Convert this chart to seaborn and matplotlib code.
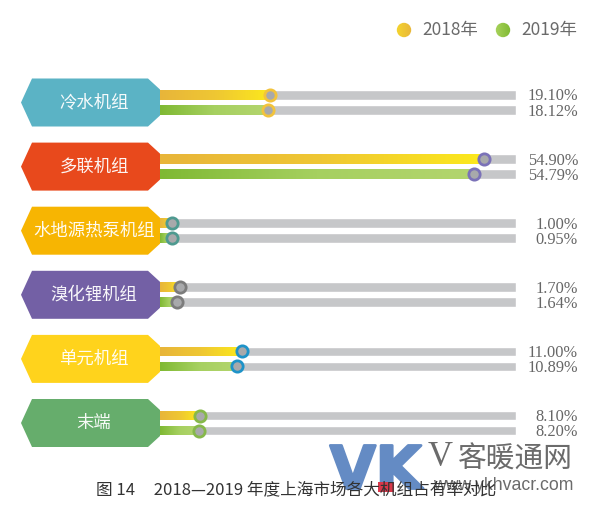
import matplotlib
matplotlib.use('Agg')
import numpy as np
import pandas as pd
import matplotlib.pyplot as plt
import matplotlib.patheffects as pe
from matplotlib.patches import Polygon, Circle
from matplotlib.colors import LinearSegmentedColormap
import seaborn as sns

# datos
categorias = ['冷水机组', '多联机组', '水地源热泵机组', '溴化锂机组', '单元机组', '末端']
etiquetas_2018 = ['19.10%', '54.90%', '1.00%', '1.70%', '11.00%', '8.10%']
etiquetas_2019 = ['18.12%', '54.79%', '0.95%', '1.64%', '10.89%', '8.20%']
# largo dibujado de cada barra, en % del riel gris (la figura no es proporcional)
largo_2018 = [30.9, 91.0, 3.4, 5.6, 23.0, 11.2]
largo_2019 = [30.3, 88.2, 3.4, 4.8, 21.6, 10.9]
riel = [100, 100, 100, 100, 100, 100]
colores = ['#5BB3C5', '#E8491C', '#F7B502', '#7360A5', '#FFD31C', '#66AD6C']
bordes = ['#F2C33C', '#7B72B8', '#4F9A90', '#7C7C7C', '#1F93C8', '#86B84A']

sns.set_theme(style='white')
plt.rcParams['font.family'] = ['Noto Sans CJK SC', 'DejaVu Sans']

W, H = 600, 519
fig = plt.figure(figsize=(W / 100, H / 100), dpi=100)

# capa de fondo en pixeles, para etiquetas y formas
fondo = fig.add_axes([0, 0, 1, 1])

# ejes de las barras: x 160-516, y 70.5-455
ax = fig.add_axes([160 / W, 1 - 455.1 / H, 356 / W, 384.6 / H])
ax.patch.set_alpha(0)

df_riel = pd.DataFrame({
    'categoria': categorias * 2,
    'anio': ['2018'] * 6 + ['2019'] * 6,
    'valor': riel + riel,
})
df_barra = pd.DataFrame({
    'categoria': categorias * 2,
    'anio': ['2018'] * 6 + ['2019'] * 6,
    'valor': largo_2018 + largo_2019,
})
sns.barplot(data=df_riel, y='categoria', x='valor', hue='anio', order=categorias,
            palette=['#C6C7C9', '#C6C7C9'], width=0.47, gap=0.35, legend=False,
            saturation=1, ax=ax, zorder=1)
n_riel = len(ax.patches)
sns.barplot(data=df_barra, y='categoria', x='valor', hue='anio', order=categorias,
            palette=['#E8B53A', '#86BC3A'], width=0.47, gap=0.35, legend=False,
            saturation=1, ax=ax, zorder=2)

# degradado dentro de cada barra de color
cmap_2018 = LinearSegmentedColormap.from_list('g18', ['#E8B53A', '#EFC733', '#FCE91C'])
cmap_2019 = LinearSegmentedColormap.from_list('g19', ['#7FB933', '#A6D060', '#B3D56E'])
grad = np.linspace(0, 1, 256).reshape(1, -1)
barras = [p for p in ax.patches[n_riel:] if p.get_width() > 0]
for p in barras:
    x0, y0, w, h = p.get_x(), p.get_y(), p.get_width(), p.get_height()
    yc = y0 + h / 2
    fila = int(round(yc))
    cmap = cmap_2018 if yc < fila else cmap_2019
    im = ax.imshow(grad, extent=[x0, x0 + w, y0 + h, y0], cmap=cmap, aspect='auto', zorder=3)
    im.set_clip_path(p)
    # punto al final de la barra
    ax.scatter(x0 + w, yc, s=66, facecolor='#A8A9AB', edgecolor=bordes[fila], linewidth=2,
               zorder=5, clip_on=False)
ax.set_xlim(0, 100)
ax.set_ylim(5.5, -0.5)
ax.axis('off')

# leyenda con degradado
grad_18 = LinearSegmentedColormap.from_list('l18', ['#F5D62E', '#E8B53A'])
grad_19 = LinearSegmentedColormap.from_list('l19', ['#A9D35C', '#7FB933'])
for xc, cmap in [(404, grad_18), (503, grad_19)]:
    circulo = Circle((xc, 30), 7.2, facecolor='none', edgecolor='none')
    fondo.add_patch(circulo)
    im = fondo.imshow(grad, extent=[xc - 8, xc + 8, 38, 22], cmap=cmap, aspect='auto')
    im.set_clip_path(circulo)
fondo.set_xlim(0, W)
fondo.set_ylim(H, 0)
fondo.axis('off')
fondo.text(422, 30, '2018年', fontsize=12.5, color='#6A6A6A', va='center')
fondo.text(521, 30, '2019年', fontsize=12.5, color='#6A6A6A', va='center')

# etiquetas tipo hexagono y valores
for i, cat in enumerate(categorias):
    yc = 102.5 + i * 64.1
    puntos = [(21, yc), (32, yc - 24), (148, yc - 24), (160, yc - 13),
              (160, yc + 13), (148, yc + 24), (32, yc + 24)]
    fondo.add_patch(Polygon(puntos, closed=True, facecolor=colores[i], edgecolor='none'))
    fondo.text(94, yc, cat, color='white', fontsize=12.5, ha='center', va='center', alpha=0.95)
    fondo.text(578, yc - 6, etiquetas_2018[i], family='Liberation Serif', fontsize=11.8,
               color='#666666', ha='right', va='center')
    fondo.text(578, yc + 9.5, etiquetas_2019[i], family='Liberation Serif', fontsize=11.8,
               color='#666666', ha='right', va='center')

# marca de agua y pie
vk = fondo.text(330, 472, 'VK', fontsize=42.5, fontweight='bold', family='DejaVu Sans',
                color='#648BC4', va='center', ha='left', zorder=2)
vk.set_path_effects([pe.withStroke(linewidth=2, foreground='#648BC4')])
fondo.add_patch(Polygon([(378, 482), (394, 482), (394, 492), (378, 492)], closed=True,
                        facecolor='#D9374A', edgecolor='none', zorder=3))
fondo.text(428, 458, 'V', fontsize=25, family='Liberation Serif', color='#6B6B6B', va='center', zorder=2)
fondo.text(458, 460, '客暖通网', fontsize=20.7, color='#6B6B6B', va='center', zorder=2)
fondo.text(433, 485, 'www.ykhvacr.com', fontsize=12.7, family='Liberation Sans', color='#6B6B6B',
           va='center', zorder=2)
fondo.text(96, 490, '图 14     2018—2019 年度上海市场各大机组占有率对比', fontsize=12,
           color='#333333', va='center', zorder=4)

plt.savefig('out.png', dpi=100)
